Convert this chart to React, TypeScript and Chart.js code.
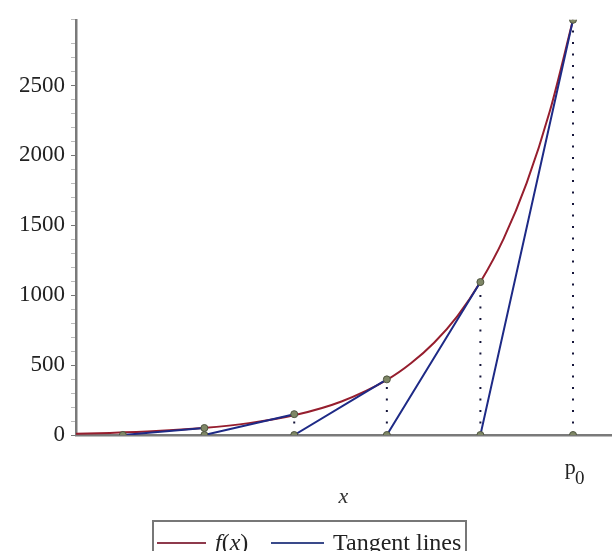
import React, { useEffect, useRef } from "react";
import { Chart, registerables } from "chart.js";

Chart.register(...registerables);

// f(x) curve samples
const curveX = [2.634, 3.0, 3.5, 4.0, 4.5, 5.0, 5.5, 6.0, 6.25, 6.5, 6.75, 7.0, 7.25, 7.5, 7.75, 8.0];
const curveY = [9, 15, 28, 50, 85, 143, 240, 398, 513, 660, 849, 1094, 1403, 1803, 2317, 2970];

// Newton iterates p0..p5 and f(p_i)
const pX = [8.0, 7.0, 5.99, 4.99, 4.02, 3.14];
const pY = [2970, 1094, 398, 149, 50, 18];

const xMin = 2.634;
const xMax = 8.41;
const yMin = 0;
const yMax = 2970;
const yStep = 100;
const yLabelEvery = 500;
const xTickValues = [8.0];
const xTickLabels = ["p "];
const xTickSubscripts = ["0"];

const FONT = "'Liberation Serif', 'Times New Roman', serif";
const CURVE_COLOR = "#961e2e";
const TANGENT_COLOR = "#1e2a86";
const AXIS_COLOR = "#7a7a7a";

const subscriptPlugin = {
  id: "tickSubscript",
  afterDraw(chart: any) {
    const xs = chart.scales.x;
    const ctx = chart.ctx;
    ctx.save();
    ctx.font = `19px ${FONT}`;
    ctx.fillStyle = "#222";
    ctx.textAlign = "left";
    ctx.textBaseline = "alphabetic";
    xTickValues.forEach((v, i) => {
      const px = xs.getPixelForValue(v);
      ctx.fillText(xTickSubscripts[i], px + 2, xs.top + 49);
    });
    ctx.restore();
  },
};

export default function App() {
  const ref = useRef<HTMLCanvasElement | null>(null);

  useEffect(() => {
    const canvas = ref.current;
    if (!canvas) return;

    const curve = curveX.map((x, i) => ({ x, y: curveY[i] }));
    const tangents: any[] = [];
    for (let i = 0; i < pX.length - 1; i++) {
      tangents.push({ x: pX[i], y: pY[i] });
      tangents.push({ x: pX[i + 1], y: 0 });
      tangents.push({ x: pX[i + 1], y: null });
    }
    const verticals: any[] = [];
    for (let i = 0; i < pX.length - 1; i++) {
      verticals.push({ x: pX[i], y: 0 });
      verticals.push({ x: pX[i], y: pY[i] });
      verticals.push({ x: pX[i], y: null });
    }
    const dots: any[] = [];
    for (let i = 0; i < pX.length; i++) {
      dots.push({ x: pX[i], y: 0 });
      if (i < pX.length - 1) dots.push({ x: pX[i], y: pY[i] });
    }

    const chart = new Chart(canvas, {
      type: "scatter",
      data: {
        datasets: [
          {
            label: "points",
            data: dots,
            showLine: false,
            pointRadius: 3.5,
            pointBackgroundColor: "#7f8766",
            pointBorderColor: "#4f5540",
            pointBorderWidth: 1,
            order: 0,
          },
          {
            label: "Tangent lines",
            data: tangents,
            showLine: true,
            spanGaps: false,
            borderColor: TANGENT_COLOR,
            borderWidth: 2,
            pointRadius: 0,
            order: 1,
          },
          {
            label: "f(x)",
            data: curve,
            showLine: true,
            borderColor: CURVE_COLOR,
            borderWidth: 2,
            pointRadius: 0,
            cubicInterpolationMode: "monotone",
            order: 2,
          },
          {
            label: "verticals",
            data: verticals,
            showLine: true,
            spanGaps: false,
            borderColor: "#15153a",
            borderWidth: 2,
            borderDash: [2, 9.5],
            pointRadius: 0,
            order: 3,
          },
        ],
      },
      options: {
        animation: false,
        responsive: false,
        maintainAspectRatio: false,
        layout: { padding: { top: 18, right: 3, bottom: 0, left: 0 } },
        plugins: { legend: { display: false }, tooltip: { enabled: false } },
        scales: {
          x: {
            type: "linear",
            min: xMin,
            max: xMax,
            afterFit: (s: any) => {
              s.height = 551 - 435;
            },
            afterBuildTicks: (s: any) => {
              s.ticks = xTickValues.map((v) => ({ value: v }));
            },
            ticks: {
              callback: (v: any) => {
                const i = xTickValues.indexOf(Number(v));
                return i >= 0 ? xTickLabels[i] : "";
              },
              font: { family: FONT, size: 22 },
              color: "#222",
              padding: 12,
              maxRotation: 0,
              autoSkip: false,
            },
            grid: { display: false },
            border: { display: true, color: AXIS_COLOR, width: 2.5 },
            title: {
              display: true,
              text: "x",
              font: { family: FONT, size: 22, style: "italic" },
              color: "#333",
              padding: { top: 0, bottom: 41 },
            },
          },
          y: {
            type: "linear",
            min: yMin,
            max: yMax,
            afterFit: (s: any) => {
              s.width = 76;
            },
            ticks: {
              stepSize: yStep,
              autoSkip: false,
              callback: (v: any) => (Number(v) % yLabelEvery === 0 ? String(v) : ""),
              font: { family: FONT, size: 23 },
              color: "#222",
              padding: 6,
            },
            grid: {
              display: true,
              drawOnChartArea: false,
              drawTicks: true,
              tickLength: 5,
              color: (ctx: any) =>
                ctx.tick && ctx.tick.value % yLabelEvery === 0 ? "#777" : "#bbb",
            },
            border: { display: true, color: AXIS_COLOR, width: 2.5 },
          },
        },
      },
      plugins: [subscriptPlugin],
    });
    return () => chart.destroy();
  }, []);

  return (
    <div style={{ position: "absolute", left: 0, top: 0, width: 616, height: 551, overflow: "hidden", background: "#fff" }}>
      <canvas ref={ref} width={616} height={551} style={{ display: "block", width: 616, height: 551 }} />
      <div
        style={{
          position: "absolute",
          left: 152,
          top: 520,
          width: 311,
          height: 40,
          border: "2px solid #777",
          fontFamily: FONT,
          fontSize: 24,
          color: "#222",
        }}
      >
        <div style={{ position: "absolute", left: 3, top: 20, width: 49, height: 2, background: "#8e3a4c" }} />
        <div style={{ position: "absolute", left: 61, top: 6, lineHeight: "28px", whiteSpace: "nowrap" }}>
          <i>f</i>(<i>x</i>)
        </div>
        <div style={{ position: "absolute", left: 117, top: 20, width: 53, height: 2, background: "#3a4a8a" }} />
        <div style={{ position: "absolute", left: 179, top: 6, lineHeight: "28px", whiteSpace: "nowrap" }}>Tangent lines</div>
      </div>
    </div>
  );
}
